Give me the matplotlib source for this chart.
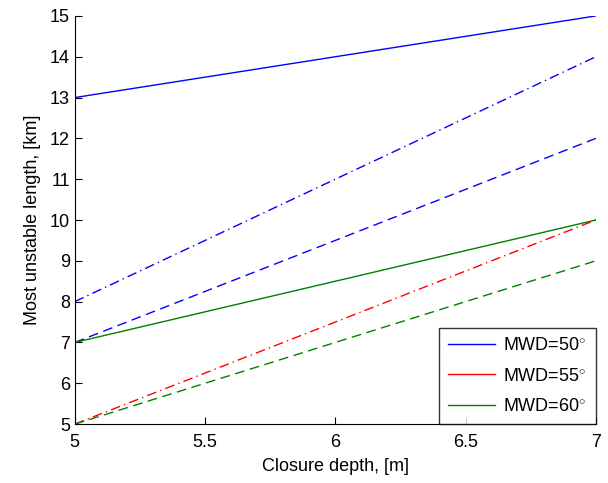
import matplotlib
matplotlib.use("Agg")
import matplotlib.pyplot as plt
from matplotlib.lines import Line2D

plt.rcParams['font.family'] = ['Liberation Sans', 'DejaVu Sans']
plt.rcParams['mathtext.fontset'] = 'custom'
plt.rcParams['mathtext.rm'] = 'Liberation Sans'

depth = [5, 7]
mwd50_solid = [13, 15]
mwd50_dashdot = [8, 14]
mwd50_dashed = [7, 12]
mwd60_solid = [7, 10]
mwd55_dashdot = [5, 10]
mwd60_dashed = [5, 9]
legend_labels = [r'MWD=50$^{\circ}$', r'MWD=55$^{\circ}$', r'MWD=60$^{\circ}$']

blue = (0, 0, 1)
red = (1, 0, 0)
green = (0, 0.5, 0)

fs = 13

fig = plt.figure(figsize=(6.08, 4.83), dpi=100)
ax = fig.add_axes([0.123, 0.122, 0.857, 0.845])

lw = 1.0
dashdot = (0, (7, 3, 1, 3))
dashed = (0, (7, 4))
ax.plot(depth, mwd50_solid, color=blue, lw=lw)
ax.plot(depth, mwd50_dashdot, color=blue, lw=lw, linestyle=dashdot)
ax.plot(depth, mwd50_dashed, color=blue, lw=lw, linestyle=dashed)
ax.plot(depth, mwd55_dashdot, color=red, lw=lw, linestyle=dashdot)
ax.plot(depth, mwd60_dashed, color=green, lw=lw, linestyle=dashed)
ax.plot(depth, mwd60_solid, color=green, lw=lw)

ax.set_xlim(5, 7)
ax.set_ylim(5, 15)
ax.set_xticks([5, 5.5, 6, 6.5, 7])
ax.set_xticklabels(['5', '5.5', '6', '6.5', '7'])
ax.set_yticks(range(5, 16))
ax.tick_params(direction='in', length=5, labelsize=fs, width=0.8, colors='black')
ax.tick_params(axis='x', pad=7)
ax.spines['top'].set_visible(False)
ax.spines['right'].set_visible(False)
for s in ['left', 'bottom']:
    ax.spines[s].set_linewidth(0.8)
    ax.spines[s].set_color('black')

ax.set_xlabel('Closure depth, [m]', fontsize=fs, labelpad=5)
ax.set_ylabel('Most unstable length, [km]', fontsize=fs, labelpad=6)

handles = [Line2D([], [], color=c, lw=lw) for c in (blue, red, green)]
leg = ax.legend(handles, legend_labels, loc='lower right', fontsize=fs,
                frameon=True, fancybox=False, edgecolor='black',
                borderaxespad=0.0, handlelength=2.6, handletextpad=0.45,
                labelspacing=0.75, borderpad=0.5)
leg.get_frame().set_linewidth(1.0)

fig.savefig('out.png', dpi=100)
